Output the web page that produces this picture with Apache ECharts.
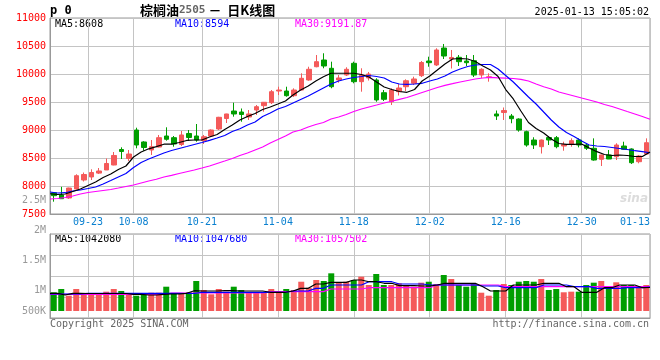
<!DOCTYPE html>
<html><head><meta charset="utf-8">
<script src="https://cdn.jsdelivr.net/npm/echarts@6/dist/echarts.min.js"></script>
<style>html,body{margin:0;padding:0;background:#fff}#c{width:660px;height:360px}</style>
</head><body><div id="c"></div>
<script>
const dates = ['2024-09-12','2024-09-13','2024-09-18','2024-09-19','2024-09-20','2024-09-23','2024-09-24','2024-09-25','2024-09-26','2024-09-27',
'2024-09-30','2024-10-08','2024-10-09','2024-10-10','2024-10-11','2024-10-14','2024-10-15','2024-10-16','2024-10-17','2024-10-18',
'2024-10-21','2024-10-22','2024-10-23','2024-10-24','2024-10-25','2024-10-28','2024-10-29','2024-10-30','2024-10-31','2024-11-01',
'2024-11-04','2024-11-05','2024-11-06','2024-11-07','2024-11-08','2024-11-11','2024-11-12','2024-11-13','2024-11-14','2024-11-15',
'2024-11-18','2024-11-19','2024-11-20','2024-11-21','2024-11-22','2024-11-25','2024-11-26','2024-11-27','2024-11-28','2024-11-29',
'2024-12-02','2024-12-03','2024-12-04','2024-12-05','2024-12-06','2024-12-09','2024-12-10','2024-12-11','2024-12-12','2024-12-13',
'2024-12-16','2024-12-17','2024-12-18','2024-12-19','2024-12-20','2024-12-23','2024-12-24','2024-12-25','2024-12-26','2024-12-27',
'2024-12-30','2024-12-31','2025-01-02','2025-01-03','2025-01-06','2025-01-07','2025-01-08','2025-01-09','2025-01-10','2025-01-13'];
const labelDates = ['09-23','10-08','10-21','11-04','11-18','12-02','12-16','12-30','01-13'];

const openP = [7880,7839,7786,7946,8107,8161,8230,8286,8375,8652, 8491,9000,8786,8643,8696,8893,8863,8741,8938,8893, 8812,8893,9018,9205,9339,9321,9232,9357,9434,9488, 9696,9696,9613,9714,9893,10130,10250,10102,9893,9982, 10191,9863,9929,9893,9666,9505,9684,9773,9834,9970, 10232,10161,10464,10268,10298,10232,10238,9982,9940,9286, 9313,9250,9196,8970,8821,8702,8866,8863,8714,8750, 8821,8732,8673,8477,8554,8523,8714,8661,8434,8571];
const closeP = [7827,7773,7964,8184,8205,8241,8268,8402,8545,8616, 8571,8732,8688,8702,8863,8834,8750,8911,8866,8821, 8880,9000,9227,9286,9286,9277,9286,9416,9495,9684, 9714,9613,9714,9923,10084,10220,10143,9773,9929,10084, 9863,9982,10000,9536,9548,9714,9750,9880,9911,10205, 10202,10429,10321,10295,10220,10202,9982,10084,9950,9250, 9348,9202,9000,8732,8732,8821,8821,8702,8741,8809, 8732,8673,8464,8554,8482,8732,8655,8416,8536,8773];
const lowP = [7720,7768,7770,7940,8080,8107,8214,8286,8370,8482, 8446,8673,8630,8554,8690,8809,8702,8714,8804,8791, 8750,8880,9000,9125,9238,9148,9179,9268,9327,9464, 9625,9595,9589,9710,9880,10120,10102,9745,9845,9964, 9834,9684,9884,9505,9518,9446,9616,9696,9804,9946, 10130,10143,10268,10098,10143,10143,9946,9929,9863,9179, 9179,9120,8970,8702,8661,8580,8732,8673,8630,8702, 8690,8643,8452,8357,8480,8464,8643,8393,8405,8571];
const highP = [7890,7985,7970,8209,8241,8298,8321,8491,8607,8691, 8643,9041,8800,8821,8911,9048,8893,8982,9000,9107, 8911,9010,9235,9290,9488,9384,9357,9446,9500,9714, 9773,9773,9744,10012,10130,10339,10370,10220,9982,10120, 10220,10102,10036,9923,9714,9744,9821,9905,9952,10232, 10309,10459,10536,10429,10339,10339,10339,10102,10012,9348, 9402,9286,9209,8988,8870,8830,8893,8893,8791,8851, 8851,8763,8851,8560,8643,8763,8791,8673,8554,8851];

const ma5 = [7862,7848,7857,7902,7946,8009,8071,8152,8214,8295, 8357,8518,8607,8664,8702,8746,8746,8777,8813,8821, 8821,8875,8920,9009,9089,9179,9241,9295,9366,9411, 9464,9518,9625,9714,9786,9875,9952,10013,10013,10013, 10013,9991,9946,9857,9768,9723,9688,9673,9723,9875, 9964,10071,10179,10268,10277,10268,10223,10143,10071,9955, 9723,9554,9339,9134,9027,8946,8839,8759,8745,8745, 8750,8679,8613,8563,8545,8554,8545,8527,8527,8608];
const ma10 = [7893,7875,7880,7911,7929,7955,7982,8036,8098,8161, 8223,8330,8420,8482,8536,8589,8634,8670,8705,8741, 8777,8816,8857,8902,8973,9023,9089,9143,9241,9304, 9375,9420,9482,9545,9607,9679,9750,9821,9875,9911, 9938,9955,9973,9955,9929,9857,9821,9816,9821,9834, 9875,9911,9964,10036,10089,10134,10161,10170,10170,10089, 9973,9857,9723,9589,9464,9321,9179,9054,8955,8884, 8804,8732,8714,8705,8688,8670,8652,8630,8613,8594];
const ma30 = [7768,7777,7795,7821,7857,7884,7902,7920,7938,7964, 7991,8018,8054,8089,8120,8161,8191,8223,8255,8286, 8321,8357,8402,8446,8491,8545,8589,8643,8696,8768, 8830,8893,8964,9000,9054,9098,9134,9196,9232,9277, 9330,9375,9411,9446,9482,9513,9548,9580,9625,9670, 9714,9759,9798,9827,9857,9884,9911,9929,9938,9932, 9925,9920,9905,9875,9821,9773,9732,9679,9643,9607, 9571,9536,9500,9455,9420,9375,9330,9286,9241,9191.87];

const volume = [962000,1017000,905000,1017000,945000,945000,933000,972000,1017000,983000, 945000,905000,928000,955000,955000,1055000,945000,945000,962000,1150000, 1000000,928000,1017000,972000,1055000,1000000,962000,962000,962000,1017000, 983000,1017000,1000000,1138000,1038000,1167000,1150000,1278000,1128000,1138000, 1167000,1222000,1083000,1267000,1083000,1083000,1112000,1067000,1055000,1122000, 1138000,1100000,1250000,1183000,1083000,1055000,1100000,955000,905000,1000000, 1100000,1083000,1138000,1150000,1138000,1183000,1000000,1017000,962000,972000, 972000,1083000,1122000,1150000,1067000,1128000,1083000,1083000,1055000,1083000];
const volMa5 = [945000,945000,917000,945000,945000,942000,942000,942000,942000,942000, 942000,928000,928000,917000,917000,928000,933000,933000,945000,988000, 983000,983000,983000,988000,988000,983000,983000,983000,983000,962000, 962000,962000,983000,1028000,1028000,1100000,1100000,1128000,1128000,1128000, 1167000,1167000,1138000,1138000,1112000,1112000,1072000,1072000,1072000,1067000, 1067000,1083000,1112000,1112000,1112000,1112000,1112000,1055000,983000,983000, 983000,1083000,1083000,1083000,1083000,1112000,1112000,1112000,1055000,1055000, 962000,962000,962000,1038000,1038000,1083000,1083000,1083000,1038000,1042080];
const volMa10 = [933000,933000,933000,933000,933000,945000,945000,945000,945000,945000, 945000,945000,945000,945000,945000,945000,945000,945000,942000,942000, 962000,962000,962000,962000,962000,962000,962000,962000,962000,962000, 962000,962000,983000,983000,983000,1028000,1028000,1083000,1083000,1083000, 1083000,1083000,1138000,1138000,1138000,1138000,1100000,1100000,1100000,1100000, 1083000,1083000,1083000,1083000,1083000,1083000,1083000,1067000,1067000,1067000, 1038000,1038000,1038000,1038000,1038000,1083000,1083000,1083000,1083000,1055000, 1055000,1055000,1028000,1028000,1028000,1028000,1038000,1038000,1038000,1047680];
const volMa30 = [928000,928000,928000,928000,928000,928000,928000,928000,928000,928000, 928000,928000,928000,928000,928000,928000,950000,950000,950000,950000, 950000,950000,950000,950000,950000,950000,950000,950000,950000,972000, 972000,972000,972000,972000,972000,972000,972000,1017000,1017000,1017000, 1017000,1017000,1038000,1038000,1038000,1038000,1038000,1038000,1038000,1038000, 1038000,1083000,1083000,1083000,1083000,1083000,1083000,1083000,1083000,1083000, 1055000,1055000,1055000,1055000,1055000,1055000,1055000,1055000,1055000,1055000, 1055000,1055000,1055000,1055000,1055000,1055000,1055000,1055000,1055000,1057502];

const priceMin = 7500, priceMax = 11000, priceStep = 500;
const volBase = 650000, volTop = 2500000;
const volTickValues = [650000, 1000000, 1500000, 2000000, 2500000];
const volTickLabels = ['500K', '1M', '1.5M', '2M', '2.5M'];

const priceLegend = ['MA5:8608', 'MA10:8594', 'MA30:9191.87'];
const volLegend = ['MA5:1042080', 'MA10:1047680', 'MA30:1057502'];

const N = dates.length;
const labelIdx = labelDates.map(d => dates.findIndex(x => x.slice(5) === d));
const UP = '#f45a5a', DOWN = '#009e00';
const FRAME = '#999999';
const mono = '"DejaVu Sans Mono", monospace';
const candle = dates.map((d, i) => [openP[i], closeP[i], lowP[i], highP[i]]);
const volData = volume.map((v, i) => ({ value: v, itemStyle: { color: closeP[i] >= openP[i] ? UP : DOWN } }));
const pairs = arr => arr.map((v, i) => [i, v]);
const guideLine = () => ({ show: true, lineStyle: { color: '#c4c4c4', type: 'solid', width: 1 } });
const frameLine = () => ({ show: true, lineStyle: { color: FRAME, width: 1 } });
const lineS = (name, data, color, xi, yi) => ({ name, type: 'line', data: pairs(data), xAxisIndex: xi, yAxisIndex: yi,
  showSymbol: false, symbol: 'none', lineStyle: { color, width: 1.2 }, z: 5, silent: true });

const chart = echarts.init(document.getElementById('c'));
chart.setOption({
  animation: false,
  grid: [
    { left: 50, right: 10, top: 18, height: 196, show: true, borderColor: FRAME, borderWidth: 1 },
    { left: 50, right: 10, top: 200, bottom: 49 },
    { left: 50, right: 10, top: 234, bottom: 42, show: true, borderColor: FRAME, borderWidth: 1 }
  ],
  xAxis: [
    { type: 'category', gridIndex: 0, data: dates, boundaryGap: true, show: false, position: 'bottom' },
    { type: 'value', gridIndex: 0, min: 0, max: N - 1, position: 'bottom', axisLine: frameLine(),
      axisTick: { show: false, customValues: labelIdx }, splitLine: guideLine(),
      axisLabel: { customValues: labelIdx, formatter: v => dates[Math.round(v)].slice(5), color: '#0a80d0',
        fontFamily: mono, fontSize: 10, margin: 3, alignMaxLabel: 'right' } },
    { type: 'category', gridIndex: 1, data: dates, boundaryGap: true, show: false, position: 'bottom' },
    { type: 'value', gridIndex: 1, min: 0, max: N - 1, show: false, position: 'top' },
    { type: 'value', gridIndex: 2, min: 0, max: N - 1, position: 'bottom', axisLine: frameLine(),
      axisTick: { show: false, customValues: labelIdx }, axisLabel: { show: false }, splitLine: guideLine() }
  ],
  yAxis: [
    { type: 'value', gridIndex: 0, min: priceMin, max: priceMax, interval: priceStep, axisLine: frameLine(),
      splitLine: guideLine(), axisTick: { show: true, length: 0, lineStyle: { color: 'transparent' } },
      axisLabel: { color: '#ff0000', fontFamily: mono, fontSize: 10, margin: 4, formatter: v => String(v) } },
    { type: 'value', gridIndex: 1, min: volBase, max: volTop, axisLine: { show: false }, axisTick: { show: false },
      splitLine: { show: false },
      axisLabel: { customValues: volTickValues, formatter: v => volTickLabels[volTickValues.indexOf(v)] || '',
        color: '#999', fontFamily: mono, fontSize: 10, margin: 4 } },
    { type: 'value', gridIndex: 2, min: 0, max: 4, interval: 1, axisLine: frameLine(),
      axisTick: { show: true, length: 0, lineStyle: { color: 'transparent' } },
      axisLabel: { show: false }, splitLine: guideLine() }
  ],
  series: [
    { type: 'candlestick', xAxisIndex: 0, yAxisIndex: 0, data: candle, barWidth: 5,
      itemStyle: { color: UP, color0: DOWN, borderColor: UP, borderColor0: DOWN, borderWidth: 1 } },
    lineS('MA30', ma30, '#ff00ff', 1, 0),
    lineS('MA10', ma10, '#0000ff', 1, 0),
    lineS('MA5', ma5, '#000000', 1, 0),
    { type: 'bar', xAxisIndex: 2, yAxisIndex: 1, data: volData, barWidth: 6 },
    lineS('VMA30', volMa30, '#ff00ff', 3, 1),
    lineS('VMA10', volMa10, '#0000ff', 3, 1),
    lineS('VMA5', volMa5, '#000000', 3, 1)
  ],
  graphic: [
    { type: 'text', x: 50, y: 11, style: { text: 'p 0', font: 'bold 12px ' + mono, fill: '#000', textVerticalAlign: 'middle' } },
    { type: 'text', x: 140, y: 10, style: { text: '{a|棕榈油}{b|2505}{a| －  日K线图}', textVerticalAlign: 'middle',
      rich: { a: { font: 'bold 13px "Noto Sans CJK SC"', fill: '#000' }, b: { font: 'bold 11px ' + mono, fill: '#666' } } } },
    { type: 'text', x: 649, y: 12, style: { text: '2025-01-13 15:05:02', font: '10px ' + mono, fill: '#000', textAlign: 'right', textVerticalAlign: 'middle' } },
    { type: 'text', x: 55, y: 24, style: { text: priceLegend[0], font: '10px ' + mono, fill: '#000', textVerticalAlign: 'middle' } },
    { type: 'text', x: 175, y: 24, style: { text: priceLegend[1], font: '10px ' + mono, fill: '#0000ff', textVerticalAlign: 'middle' } },
    { type: 'text', x: 295, y: 24, style: { text: priceLegend[2], font: '10px ' + mono, fill: '#ff00ff', textVerticalAlign: 'middle' } },
    { type: 'text', x: 55, y: 239, style: { text: volLegend[0], font: '10px ' + mono, fill: '#000', textVerticalAlign: 'middle' } },
    { type: 'text', x: 175, y: 239, style: { text: volLegend[1], font: '10px ' + mono, fill: '#0000ff', textVerticalAlign: 'middle' } },
    { type: 'text', x: 295, y: 239, style: { text: volLegend[2], font: '10px ' + mono, fill: '#ff00ff', textVerticalAlign: 'middle' } },
    { type: 'text', x: 50, y: 324, style: { text: 'Copyright 2025 SINA.COM', font: '10px ' + mono, fill: '#666', textVerticalAlign: 'middle' } },
    { type: 'text', x: 649, y: 324, style: { text: 'http://finance.sina.com.cn', font: '10px ' + mono, fill: '#666', textAlign: 'right', textVerticalAlign: 'middle' } },
    { type: 'text', x: 648, y: 199, z: 1, style: { text: 'sina', font: 'italic bold 12px "DejaVu Sans"', fill: '#dcdcdc', textAlign: 'right', textVerticalAlign: 'middle' } }
  ]
});
</script>
</body></html>
